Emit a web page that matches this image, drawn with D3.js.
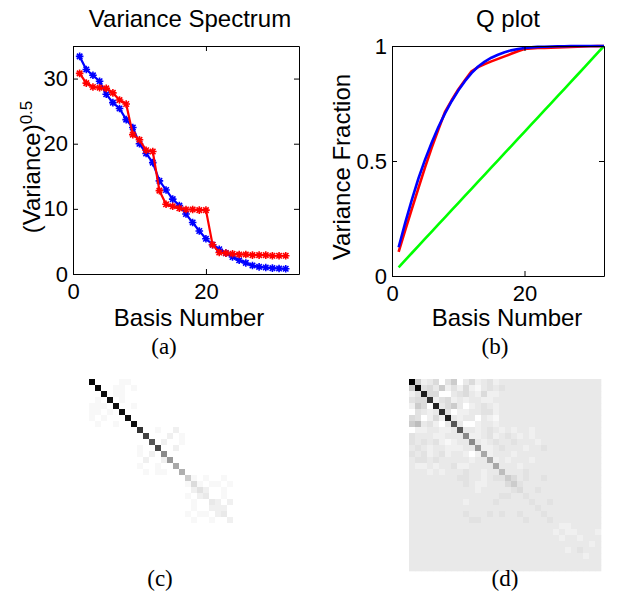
<!DOCTYPE html>
<html>
<head>
<meta charset="utf-8">
<script src="https://cdn.jsdelivr.net/npm/d3@7"></script>
<style>
  body { margin: 0; background: #fff; }
  svg { display: block; }
</style>
</head>
<body>
<svg id="chart" width="621" height="597"></svg>
<script>
// basis numbers shared by both top plots
const basis = [1, 2, 3, 4, 5, 6, 7, 8, 9, 10, 11, 12, 13, 14, 15, 16,
               17, 18, 19, 20, 21, 22, 23, 24, 25, 26, 27, 28, 29, 30, 31, 32];

// (a) square root of variance per basis vector
const spectrumBlue = [33.4, 31.4, 30.5, 29.6, 27.6, 26.3, 25.4, 23.7, 22.5, 20.0, 18.5, 17.1, 14.3, 12.9, 11.5, 10.5,
                      9.2, 7.9, 6.6, 5.4, 4.5, 3.8, 3.2, 2.6, 2.1, 1.7, 1.3, 1.1, 1.0, 0.9, 0.85, 0.8];
const spectrumRed = [30.8, 29.3, 28.7, 28.6, 28.5, 27.8, 26.7, 26.1, 21.4, 20.6, 19.0, 18.8, 12.8, 10.7, 10.4, 10.1,
                     9.9, 9.9, 9.8, 9.8, 4.5, 3.3, 3.2, 3.1, 3.0, 3.0, 2.9, 2.9, 2.9, 2.8, 2.8, 2.8];

// (b) cumulative variance fraction
const qBlue = [0.125, 0.232, 0.332, 0.425, 0.507, 0.580, 0.648, 0.707, 0.760, 0.806, 0.847, 0.882, 0.911, 0.932, 0.949, 0.962,
               0.973, 0.981, 0.987, 0.991, 0.994, 0.996, 0.997, 0.998, 0.999, 0.999, 1.0, 1.0, 1.0, 1.0, 1.0, 1.0];
const qRed = [0.105, 0.200, 0.292, 0.383, 0.473, 0.558, 0.637, 0.713, 0.764, 0.811, 0.851, 0.890, 0.908, 0.921, 0.933, 0.944,
              0.955, 0.966, 0.977, 0.987, 0.989, 0.991, 0.992, 0.993, 0.994, 0.995, 0.996, 0.997, 0.998, 0.999, 0.9995, 1.0];
const qGreen = [0.038, 0.069, 0.100, 0.131, 0.162, 0.193, 0.224, 0.255, 0.286, 0.317, 0.348, 0.379, 0.410, 0.441, 0.472, 0.503,
                0.534, 0.565, 0.596, 0.627, 0.658, 0.689, 0.720, 0.751, 0.782, 0.813, 0.844, 0.875, 0.906, 0.938, 0.969, 1.0];

const spectrumTicksX = [0, 20];
const spectrumTicksY = [0, 10, 20, 30];
const qTicksX = [0, 20];
const qTicksY = [0, 0.5, 1];

// (c), (d) 32x32 matrices, one base-36 digit per cell: 0 = white ... z = black
const matrixC = [
  "y0000110000000000000000000000000",
  "0y001101000000000000000000000000",
  "00x01100000000000000000000000000",
  "010x0100000000000000000000000000",
  "1110x001000000000000000000000000",
  "11010x00000000000000000000000000",
  "101000x0000000000000000000000000",
  "0100100x000000000000000000000000",
  "00000000s00100200000000000000000",
  "000000000q0002010000000000000000",
  "0000000000n020010000000000000000",
  "00000000100p00200000000000000000",
  "000000001020g0000000000000000000",
  "0000000002002e000000000000000000",
  "00000000100100c00000000000000000",
  "000000000101100b0000000000000000",
  "00000000000000007101001000000000",
  "00000000000000001510110100000000",
  "00000000000000000242001000000000",
  "00000000000000001023001000000000",
  "00000000000000000100320200000000",
  "00000000000000000100222000000000",
  "00000000000000001011023000000000",
  "00000000000000000100100200000000",
  "00000000000000000000000000000000",
  "00000000000000000000000000000000",
  "00000000000000000000000000000000",
  "00000000000000000000000000000000",
  "00000000000000000000000000000000",
  "00000000000000000000000000000000",
  "00000000000000000000000000000000",
  "00000000000000000000000000000000"
];
const matrixD = [
  "z723504703523423333333333333333",
  "7y45372425213434333333333333333",
  "24v55003453252233333333333333333",
  "455s2452323322333333333333333333",
  "2750u357302343233333333333333333",
  "04323t40223344233333333333333333",
  "540252v3233032133333333333333333",
  "7934203n300233233333333333333333",
  "02233223n33234323233233333333333",
  "433322333g2234234323233333333333",
  "4343421233g323433433323333333333",
  "34323322233e22343332334333333333",
  "434234233202c2333233333333333333",
  "3443433333233c232333233333333333",
  "32232334223333c33323333333333333",
  "33323233343323393334333333333333",
  "33333333443323447534334333333333",
  "33333333343223335743333333333333",
  "33333333333233333453343333333333",
  "33333333333333344334333333333333",
  "33333333323333433333433433333333",
  "33333333333333333333343333333333",
  "33333333343334343343334333333333",
  "33333333334433333334333433333333",
  "33333333333333333333333332233333",
  "33333333333333333333333323223332",
  "33333333333333333333333332332333",
  "33333333333333333333333333333323",
  "33333333333333333333333333234333",
  "33333333333333333333333333333233",
  "33333333333333333333333333333333",
  "33333333333333333333333333333333"
];

const SANS = "'Liberation Sans', Arial, sans-serif";
const SERIF = "'Liberation Serif', 'Times New Roman', serif";

class FigureSheet {
    constructor(svg) {
        this.svg = svg;
        this.fontSize = 24;
        this.tickSize = 22;
        this.drawAll();
    }

    drawAll() {
        this.renderSpectrum();
        this.renderQPlot();
        this.renderMatrix(matrixC, 89, 379, 192, 0);
        this.renderMatrix(matrixD, 409, 379, 192, 3);
        this.renderCaptions();
    }

    label(g, x, y, text, opts = {}) {
        return g.append("text")
            .attr("x", x).attr("y", y)
            .attr("text-anchor", opts.anchor || "middle")
            .attr("font-family", opts.family || SANS)
            .attr("font-size", opts.size || this.fontSize)
            .attr("fill", "#000")
            .text(text);
    }

    frame(x, y, xTicks, yTicks, yFormat) {
        const g = this.svg.append("g");
        const [x0, x1] = x.range();
        const [yb, yt] = y.range();

        const styleAxis = sel => {
            sel.attr("font-family", SANS).attr("font-size", this.tickSize);
            sel.select(".domain").attr("stroke", "#000").attr("stroke-width", 1);
            sel.selectAll(".tick line").attr("stroke", "#000");
            sel.selectAll("text").attr("fill", "#000");
        };

        g.append("g").attr("transform", `translate(0,${yb})`)
            .call(d3.axisBottom(x).tickValues(xTicks).tickSizeInner(-5).tickSizeOuter(0).tickPadding(9))
            .call(styleAxis);
        g.append("g").attr("transform", `translate(0,${yt})`)
            .call(d3.axisTop(x).tickValues(xTicks).tickSizeInner(-5).tickSizeOuter(0).tickFormat(""))
            .call(styleAxis);
        g.append("g").attr("transform", `translate(${x0},0)`)
            .call(d3.axisLeft(y).tickValues(yTicks).tickSizeInner(-5).tickSizeOuter(0).tickPadding(5).tickFormat(yFormat))
            .call(styleAxis);
        g.append("g").attr("transform", `translate(${x1},0)`)
            .call(d3.axisRight(y).tickValues(yTicks).tickSizeInner(-5).tickSizeOuter(0).tickFormat(""))
            .call(styleAxis);
        return g;
    }

    renderSpectrum() {
        const x = d3.scaleLinear().domain([0, 34]).range([73, 299]);
        const y = d3.scaleLinear().domain([0, 35]).range([274, 46]);
        const plot = this.svg.append("g");

        const series = [
            { name: "blue", color: "#0000ff", values: spectrumBlue },
            { name: "red", color: "#ff0000", values: spectrumRed }
        ];
        const line = d3.line().x(d => x(d.n)).y(d => y(d.v));
        const star = r => {
            const a = r * 0.72;
            return `M${-r},0H${r}M0,${-r}V${r}M${-a},${-a}L${a},${a}M${-a},${a}L${a},${-a}`;
        };

        series.forEach(s => {
            const pts = basis.map((n, i) => ({ n: n, v: s.values[i] }));
            plot.append("path")
                .attr("d", line(pts))
                .attr("fill", "none")
                .attr("stroke", s.color)
                .attr("stroke-width", 2.2);
            plot.selectAll("path.mk-" + s.name)
                .data(pts)
                .enter().append("path")
                .attr("class", "mk-" + s.name)
                .attr("transform", d => `translate(${x(d.n)},${y(d.v)})`)
                .attr("d", star(3.8))
                .attr("stroke", s.color)
                .attr("stroke-width", 1.6)
                .attr("fill", "none");
        });

        this.frame(x, y, spectrumTicksX, spectrumTicksY, d3.format("d"));

        this.label(this.svg, 190, 27, "Variance Spectrum");
        this.label(this.svg, 189, 326, "Basis Number");

        const yl = this.svg.append("text")
            .attr("transform", "translate(40,167) rotate(-90)")
            .attr("text-anchor", "middle")
            .attr("font-family", SANS)
            .attr("font-size", this.fontSize);
        yl.append("tspan").text("(Variance)");
        yl.append("tspan").attr("dy", "-0.5em").attr("font-size", 17).text("0.5");
    }

    renderQPlot() {
        const x = d3.scaleLinear().domain([0, 32]).range([392, 604]);
        const y = d3.scaleLinear().domain([0, 1]).range([276, 46]);
        const plot = this.svg.append("g");

        const series = [
            { color: "#00ff00", values: qGreen },
            { color: "#ff0000", values: qRed },
            { color: "#0000ff", values: qBlue }
        ];
        const line = d3.line().x(d => x(d.n)).y(d => y(d.v));

        series.forEach(s => {
            const pts = basis.map((n, i) => ({ n: n, v: s.values[i] }));
            plot.append("path")
                .attr("d", line(pts))
                .attr("fill", "none")
                .attr("stroke", s.color)
                .attr("stroke-width", 2.6)
                .attr("stroke-linejoin", "round");
        });

        this.frame(x, y, qTicksX, qTicksY, d => d === 0.5 ? "0.5" : d3.format("d")(d));

        this.label(this.svg, 508, 27, "Q plot");
        this.label(this.svg, 507, 326, "Basis Number");
        this.label(this.svg, 0, 0, "Variance Fraction")
            .attr("transform", "translate(350,167) rotate(-90)");
    }

    renderMatrix(rows, left, top, size, bg) {
        const n = rows.length;
        const idx = d3.range(n);
        const col = d3.scaleBand().domain(idx).range([left, left + size]);
        const row = d3.scaleBand().domain(idx).range([top, top + size]);
        const shade = d3.scaleLinear().domain([0, 35]).range(["#ffffff", "#000000"]).clamp(true);

        const cells = [];
        rows.forEach((r, i) => {
            const s = r.padEnd(n, bg.toString(36)).slice(0, n);
            for (let j = 0; j < n; j++) {
                cells.push({ i: i, j: j, v: parseInt(s[j], 36) });
            }
        });

        this.svg.append("g").selectAll("rect")
            .data(cells)
            .enter().append("rect")
            .attr("x", d => col(d.j))
            .attr("y", d => row(d.i))
            .attr("width", col.bandwidth() + 0.3)
            .attr("height", row.bandwidth() + 0.3)
            .attr("fill", d => shade(d.v));
    }

    renderCaptions() {
        const opts = { family: SERIF, size: 23 };
        this.label(this.svg, 164, 354, "(a)", opts);
        this.label(this.svg, 495, 354, "(b)", opts);
        this.label(this.svg, 160, 586, "(c)", opts);
        this.label(this.svg, 505, 586, "(d)", opts);
    }
}

new FigureSheet(d3.select("#chart"));
</script>
</body>
</html>
